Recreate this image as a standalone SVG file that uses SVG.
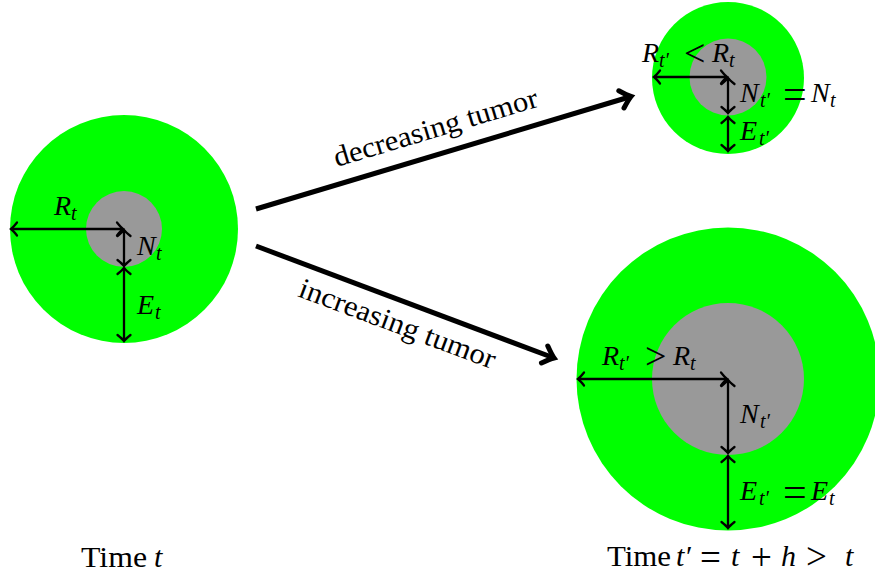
<svg xmlns="http://www.w3.org/2000/svg" width="875" height="577" viewBox="0 0 875 577">
<style>
.green{fill:#00ff00}
.gray{fill:#999999}
.rad{stroke:#000;stroke-width:2.3;fill:none;marker-start:url(#sm);marker-end:url(#sm)}
.main{stroke:#000;stroke-width:5;fill:none;marker-end:url(#big)}
text{font-family:"Liberation Serif","DejaVu Serif",serif;fill:#000}
.m{font-size:28px}
.s{font-size:20px;font-style:italic}
.i{font-style:italic}
.eq{font-size:42px}
.rel{font-size:38px}
.top{font-size:37px}
.lbl{font-size:29px}
.time{font-size:30px}
</style>
<defs>
<marker id="sm" markerUnits="userSpaceOnUse" viewBox="-10 -10 14 20" markerWidth="14" markerHeight="20" refX="0" refY="0" orient="auto-start-reverse" overflow="visible">
<path d="M-6,-6.5 Q-2,-1.5 0,0 Q-2,1.5 -6,6.5" fill="none" stroke="#000" stroke-width="2.3" stroke-linecap="round"/>
</marker>
<marker id="big" markerUnits="userSpaceOnUse" viewBox="-14 -12 18 24" markerWidth="18" markerHeight="24" refX="0" refY="0" orient="auto" overflow="visible">
<path d="M-10,-9 Q-3,-2 0,0 Q-3,2 -10,9" fill="none" stroke="#000" stroke-width="5" stroke-linecap="round"/>
</marker>
</defs>

<g id="tumor-t">
<circle class="green" cx="124" cy="229" r="114"/>
<circle class="gray" cx="124" cy="229" r="38"/>
<path class="rad" d="M123,229 H11"/>
<path class="rad" d="M124,230 V266"/>
<path class="rad" d="M124,268 V341"/>
<text class="m" y="215"><tspan class="i" x="54">R</tspan><tspan class="s" x="71" y="220">t</tspan></text>
<text class="m" y="255"><tspan class="i" x="137">N</tspan><tspan class="s" x="156" y="260">t</tspan></text>
<text class="m" y="314"><tspan class="i" x="137">E</tspan><tspan class="s" x="155" y="319">t</tspan></text>
<text class="time" y="567"><tspan x="81" textLength="66" lengthAdjust="spacingAndGlyphs">Time</tspan><tspan class="i" x="154">t</tspan></text>
</g>

<g id="tumor-decreasing">
<circle class="green" cx="728" cy="78" r="76"/>
<circle class="gray" cx="728" cy="77" r="38.5"/>
<path class="rad" d="M727,77 H654"/>
<path class="rad" d="M728,78 V113"/>
<path class="rad" d="M728,117 V151"/>
<text class="m" y="62"><tspan class="i" x="642">R</tspan><tspan class="s" x="659" y="67">t′</tspan><tspan class="rel" x="684" y="66">&lt;</tspan><tspan class="i" x="712" y="62">R</tspan><tspan class="s" x="729" y="67">t</tspan></text>
<text class="m" y="102"><tspan class="i" x="740">N</tspan><tspan class="s" x="760" y="107">t′</tspan><tspan class="eq" x="783" y="108">=</tspan><tspan class="i" x="811" y="102">N</tspan><tspan class="s" x="830" y="107">t</tspan></text>
<text class="m" y="140"><tspan class="i" x="740">E</tspan><tspan class="s" x="759" y="145">t′</tspan></text>
</g>

<g id="tumor-increasing">
<circle class="green" cx="728" cy="379" r="151.5"/>
<circle class="gray" cx="728" cy="379" r="76"/>
<path class="rad" d="M727,379 H578"/>
<path class="rad" d="M728,380 V453"/>
<path class="rad" d="M728,456 V528"/>
<text class="m" y="365"><tspan class="i" x="602">R</tspan><tspan class="s" x="619" y="370">t′</tspan><tspan class="rel" x="645" y="369">&gt;</tspan><tspan class="i" x="673" y="365">R</tspan><tspan class="s" x="690" y="370">t</tspan></text>
<text class="m" y="423"><tspan class="i" x="740">N</tspan><tspan class="s" x="760" y="428">t′</tspan></text>
<text class="m" y="500"><tspan class="i" x="740">E</tspan><tspan class="s" x="759" y="505">t′</tspan><tspan class="eq" x="783" y="506">=</tspan><tspan class="i" x="811" y="500">E</tspan><tspan class="s" x="829" y="505">t</tspan></text>
<text class="time" y="566"><tspan x="607" textLength="64" lengthAdjust="spacingAndGlyphs">Time</tspan><tspan class="i" x="676">t</tspan><tspan x="686">′</tspan><tspan class="top" x="700" y="570">=</tspan><tspan class="i" x="731" y="566">t</tspan><tspan class="top" x="751" y="570">+</tspan><tspan class="i" x="781" y="566">h</tspan><tspan class="top" x="806" y="569">&gt;</tspan><tspan class="i" x="845" y="566">t</tspan></text>
</g>

<g id="connectors">
<path class="main" d="M256,209 L631,96.5"/>
<path class="main" d="M256,246 L554,358"/>
<text class="lbl" transform="translate(436,129) rotate(-16.7)" x="0" y="8" text-anchor="middle" textLength="212" lengthAdjust="spacingAndGlyphs">decreasing tumor</text>
<text class="lbl" transform="translate(397,325) rotate(20.6)" x="0" y="8" text-anchor="middle" textLength="208" lengthAdjust="spacingAndGlyphs">increasing tumor</text>
</g>
</svg>
